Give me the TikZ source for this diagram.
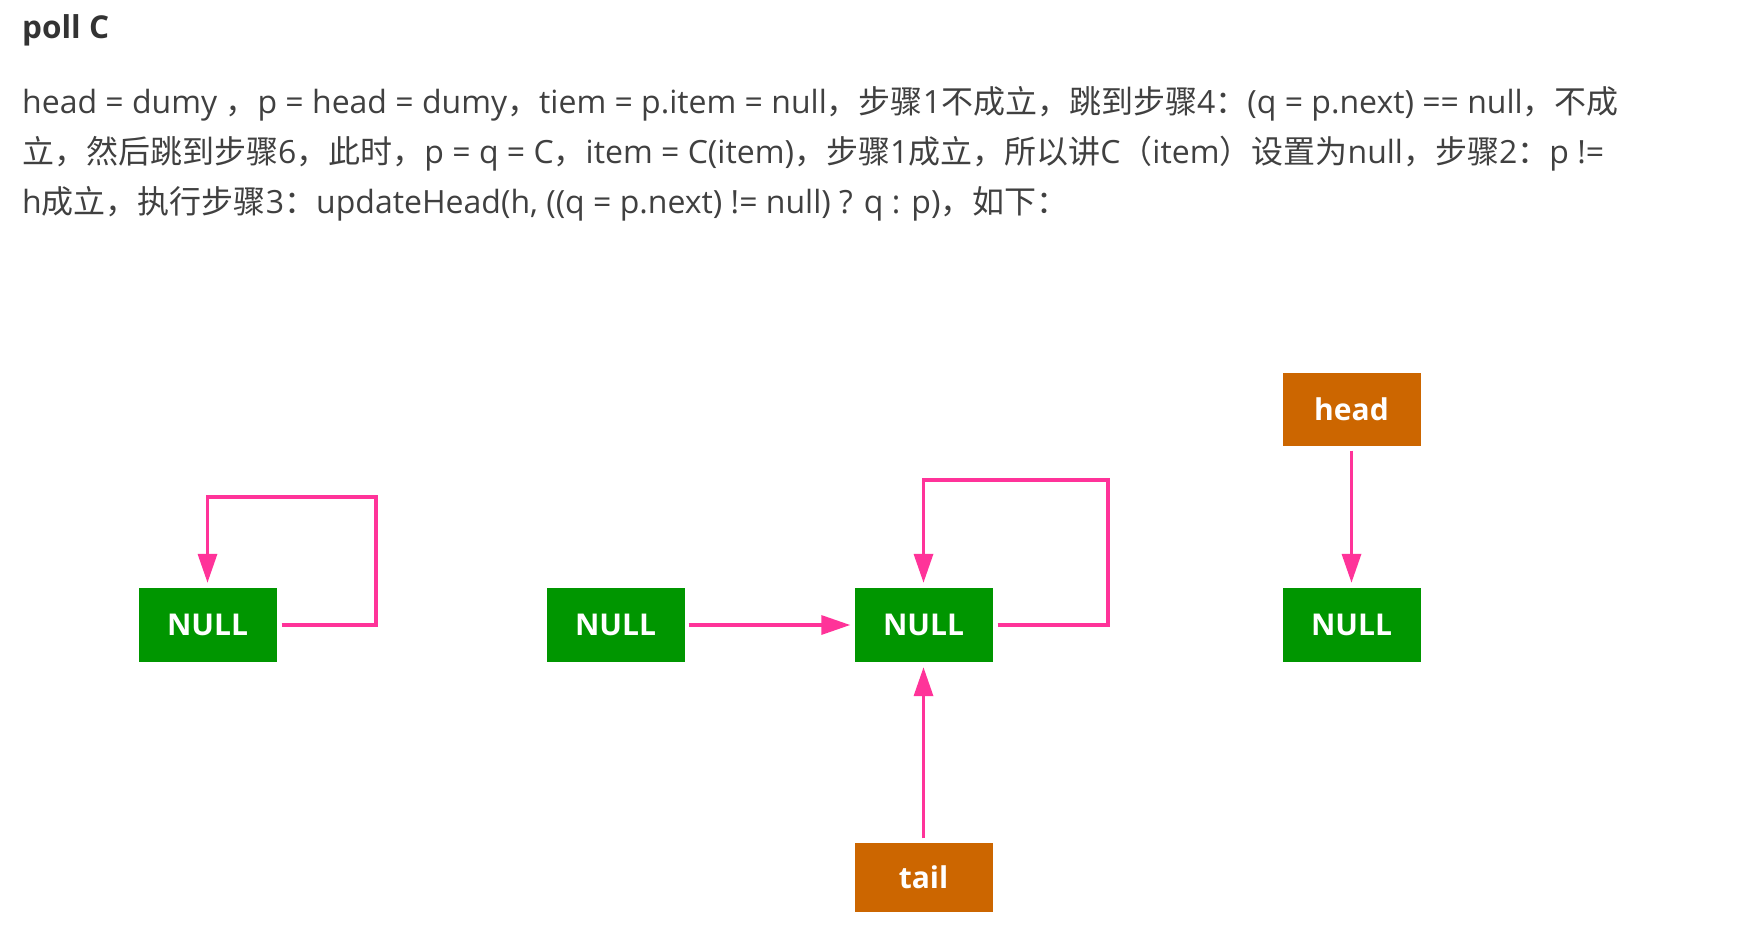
\documentclass[tikz,border=0pt]{standalone}
\usepackage{fontspec}
\setmainfont{Open Sans}
\newfontfamily\zhfont{Noto Sans CJK SC}
\newcommand{\Z}[1]{{\zhfont #1}}
\usetikzlibrary{arrows.meta}
\definecolor{boxgreen}{RGB}{0,150,0}
\definecolor{boxorange}{RGB}{204,102,0}
\definecolor{linkpink}{RGB}{255,51,153}
\definecolor{bodytext}{RGB}{64,64,64}
\definecolor{titletext}{RGB}{51,51,51}
\tikzset{
  cell/.style={draw=none, inner sep=0pt, minimum width=138pt, text=white,
    font=\fontsize{30}{34}\selectfont\bfseries},
  nullbox/.style={cell, fill=boxgreen, minimum height=74pt},
  ptrbox/.style={cell, fill=boxorange},
  link/.style={draw=linkpink, line width=3.4pt, -{Triangle[length=29pt,width=19pt]}},
  bodyline/.style={anchor=base west, inner sep=0pt, text=bodytext,
    font=\fontsize{32}{36}\selectfont},
}
\begin{document}
\begin{tikzpicture}[x=1pt,y=-1pt]
\useasboundingbox (0,0) rectangle (1746,926);
% texts
\node[anchor=base west, inner sep=0pt, text=titletext,
  font=\fontsize{31.5}{36}\selectfont\bfseries] (title) at (22,38) {poll C};
\node[bodyline] (l1) at (22,113) {head = dumy \Z{，}p = head = dumy\Z{，}tiem = p.item = null\Z{，步骤}1\Z{不成立，跳到步骤}4\Z{：}(q = p.next) == null\Z{，不成}};
\node[bodyline] (l2) at (22,163) {\Z{立，然后跳到步骤}6\Z{，此时，}p = q = C\Z{，}item = C(item)\Z{，步骤}1\Z{成立，所以讲}C\Z{（}item\Z{）设置为}null\Z{，步骤}2\Z{：}p !=};
\node[bodyline] (l3) at (22,213) {h\Z{成立，执行步骤}3\Z{：}updateHead(h, ((q = p.next) != null) ? q : p)\Z{，如下：}};
% boxes
\node[nullbox] (b1) at (207.5,625) {NULL};
\node[nullbox] (b2) at (615.5,625) {NULL};
\node[nullbox] (b3) at (923.5,625) {NULL};
\node[nullbox] (b4) at (1351.5,625) {NULL};
\node[ptrbox, minimum height=73pt] (head) at (1351.5,409) {head};
\node[ptrbox, minimum height=69pt] (tail) at (923.5,877) {tail};
% loop corners
\coordinate (c1) at (376,497);
\coordinate (c3) at (1108,480);
% connectors
\draw[link] ([xshift=5pt]b1.east) -| (c1) -| ([yshift=5pt]b1.north);
\draw[link] ([xshift=4pt]b2.east) -- ([xshift=-4pt]b3.west);
\draw[link] ([xshift=5pt]b3.east) -| (c3) -| ([yshift=5pt]b3.north);
\draw[link] ([yshift=4pt]tail.north) -- ([yshift=-5pt]b3.south);
\draw[link] ([yshift=-5pt]head.south) -- ([yshift=5pt]b4.north);
\end{tikzpicture}
\end{document}
